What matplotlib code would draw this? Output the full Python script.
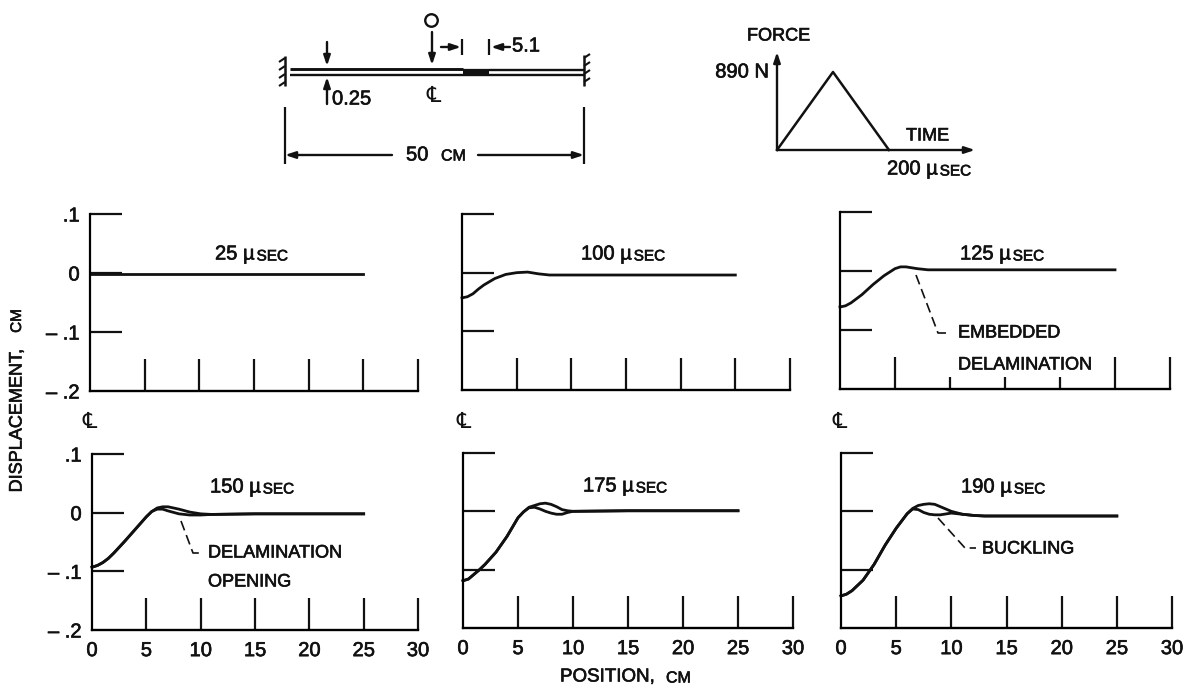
import matplotlib
matplotlib.use("Agg")
import matplotlib.pyplot as plt
import matplotlib.patheffects as pe
from matplotlib.text import Text

plt.rcParams['font.family'] = ['Liberation Sans', 'DejaVu Sans']

INK = '#111111'
W, H = 1191, 688

# displacement curves, position in cm, displacement in cm
x_25 = [0, 5, 10, 15, 20, 25]
y_25 = [-.002, -.002, -.002, -.002, -.002, -.002]

x_100 = [0, 0.5, 1, 1.5, 2, 3, 4, 5, 6, 7, 8, 10, 15, 20, 25]
y_100 = [-.043, -.041, -.036, -.028, -.021, -.010, -.003, 0, .001, -.002, -.004, -.004, -.004, -.004, -.004]

x_125 = [0, 0.5, 1, 1.5, 2, 3, 4, 5, 5.5, 6, 7, 8, 10, 15, 20, 25]
y_125 = [-.061, -.059, -.054, -.047, -.040, -.023, -.008, .004, .007, .007, .004, .002, .002, .002, .002, .002]

x_150 = [0, 0.5, 1, 1.5, 2, 3, 4, 5, 5.5, 6, 6.5, 7, 8, 9, 10, 11, 15, 20, 25]
y_150 = [-.093, -.090, -.085, -.078, -.069, -.049, -.028, -.007, .002, .008, .010, .010, .006, .001, -.002, -.003, -.002, -.002, -.002]
y_150b = [-.093, -.090, -.085, -.078, -.069, -.049, -.028, -.007, .002, .006, .006, .003, -.002, -.004, -.004, -.003, -.002, -.002, -.002]

x_175 = [0, 0.5, 1, 1.5, 2, 3, 4, 5, 5.5, 6, 6.5, 7, 7.5, 8, 8.5, 9, 9.5, 10, 15, 20, 25]
y_175 = [-.119, -.116, -.108, -.100, -.091, -.070, -.043, -.011, -.001, .007, .010, .013, .014, .012, .008, .003, .001, 0, .001, .001, .001]
y_175b = [-.119, -.116, -.108, -.100, -.091, -.070, -.043, -.011, -.001, .006, .007, .004, .000, -.003, -.005, -.005, -.002, 0, .001, .001, .001]

x_190 = [0, 0.5, 1, 2, 3, 4, 5, 6, 6.5, 7, 7.5, 8, 8.5, 9, 10, 11, 12, 13, 15, 20, 25]
y_190 = [-.145, -.142, -.136, -.118, -.091, -.058, -.029, -.004, .005, .010, .012, .013, .012, .008, 0, -.005, -.007, -.008, -.008, -.008, -.008]
y_190b = [-.145, -.142, -.136, -.118, -.091, -.058, -.029, -.004, .004, .003, -.002, -.005, -.006, -.006, -.003, -.005, -.007, -.008, -.008, -.008, -.008]

# panels
times = [25, 100, 125, 150, 175, 190]
curves = [
    [(x_25, y_25)],
    [(x_100, y_100)],
    [(x_125, y_125)],
    [(x_150, y_150), (x_150, y_150b)],
    [(x_175, y_175), (x_175, y_175b)],
    [(x_190, y_190), (x_190, y_190b)],
]
boxes = [(90, 418, 214, 391), (462, 790, 214, 390), (840, 1170, 212, 389),
         (92, 418, 454, 630), (463, 793, 453, 628), (841, 1172, 453, 628)]
title_pos = [(215, 254), (581, 254), (960, 254), (210, 487), (583, 486), (961, 487)]

x_ticks = [0, 5, 10, 15, 20, 25, 30]
y_ticks = [.1, 0, -.1, -.2]
y_tick_labels = ['.1', '0', '\u2013 .1', '\u2013 .2']

# force history
force_time = [0, 100, 200]
force_value = [0, 890, 0]

fig = plt.figure(figsize=(W / 100, H / 100), dpi=100)

# overlay in pixels for lettering and the beam sketch
ov = fig.add_axes([0, 0, 1, 1], zorder=5)
ov.set_xlim(0, W)
ov.set_ylim(H, 0)
ov.axis('off')
ov.patch.set_alpha(0)


def label(x, y, s, size=13, ha='left', rot=0):
    return ov.text(x, y, s, fontsize=size, ha=ha, va='center', color=INK, rotation=rot)


def usec(x, y, num):
    t = label(x, y, num + ' \u00b5', size=14.5)
    ov.annotate('SEC', xy=(1, 0), xycoords=t, xytext=(1.5, 0), textcoords='offset points',
                fontsize=11, ha='left', va='bottom', color=INK)


def seg(xs, ys, lw=1.6, **kw):
    ov.plot(xs, ys, color=INK, lw=lw, solid_capstyle='butt', **kw)


def arrow(x0, y0, x1, y1):
    ov.annotate('', xy=(x1, y1), xytext=(x0, y0),
                arrowprops=dict(arrowstyle='-|>,head_length=0.6,head_width=0.2', lw=1.7,
                                color=INK, shrinkA=0, shrinkB=0))


for i in range(6):
    l, r, t, b = boxes[i]
    ax = fig.add_axes([l / W, 1 - b / H, (r - l) / W, (b - t) / H])
    ax.patch.set_alpha(0)
    for xs, ys in curves[i]:
        ax.plot(xs, ys, color=INK, lw=2.0, clip_on=False, solid_joinstyle='round')
    ax.set_xlim(0, 30)
    ax.set_ylim(-.2, .1)
    ax.spines['top'].set_visible(False)
    ax.spines['right'].set_visible(False)
    ax.spines['left'].set_linewidth(1.6)
    ax.spines['bottom'].set_linewidth(1.7)
    ax.set_xticks(x_ticks)
    ax.set_yticks(y_ticks)
    ax.tick_params(axis='both', direction='in', length=23, width=1.6, color=INK, labelcolor=INK,
                   labelsize=14.5, pad=7.5)
    ax.tick_params(axis='x', labelbottom=i >= 3, pad=8)
    ax.xaxis.get_major_ticks()[0].tick1line.set_visible(False)
    ax.yaxis.get_major_ticks()[3].tick1line.set_visible(False)
    if i % 3 == 0:
        ax.set_yticklabels(y_tick_labels)
    else:
        ax.tick_params(axis='y', labelleft=False)
    if i == 2:
        for k in [2, 3, 4]:
            ax.xaxis.get_major_ticks()[k].tick1line.set_markersize(9)
    usec(title_pos[i][0], title_pos[i][1], str(times[i]))

# axis titles
label(17, 421, 'DISPLACEMENT,', size=13, ha='center', rot=90)
label(17, 321, 'CM', size=11, ha='center', rot=90)
label(560, 677, 'POSITION,', size=13.5)
label(666, 678, 'CM', size=11.5)

# leaders
ov.plot([916, 938, 949], [275, 333, 333], color=INK, lw=1.2, ls=(0, (6, 3)))
label(958, 333, 'EMBEDDED')
label(958, 365, 'DELAMINATION')
ov.plot([181, 193, 203], [521, 553, 553], color=INK, lw=1.2, ls=(0, (6, 3)))
label(208, 553, 'DELAMINATION')
label(208, 582, 'OPENING')
ov.plot([938, 965, 976], [518, 548, 548], color=INK, lw=1.2, ls=(0, (6, 3)))
label(982, 549, 'BUCKLING')

# beam sketch
seg([290, 463], [69, 69], lw=2.1)
seg([489, 584], [70, 70], lw=1.7)
seg([290, 584], [75, 75], lw=1.7)
seg([463, 489], [71.5, 71.5], lw=4.5)
seg([285, 285], [56, 86], lw=1.8)
seg([584, 584], [55, 86], lw=1.8)
for y in [58, 66, 74, 82]:
    seg([285, 279], [y, y + 4], lw=1.5)
    seg([584, 590], [y, y - 4], lw=1.5)
arrow(327, 42, 327, 66)
arrow(327, 104, 327, 77)
label(332, 99, '0.25', size=14.5)
ov.plot([431], [20], marker='o', ms=9, mfc='none', mec=INK, mew=1.7)
arrow(432, 32, 432, 65)
arrow(441, 47, 461, 47)
seg([462, 462], [39, 55])
arrow(510, 47, 491, 47)
seg([489, 489], [39, 55])
label(512, 46, '5.1', size=14.5)
seg([285, 285], [107, 164])
seg([584, 584], [107, 164])
arrow(392, 155, 285, 155)
arrow(478, 155, 584, 155)
label(406, 155, '50', size=14.5)
label(441, 156, 'CM', size=11.5)

# force sketch, origin at pixel (777, 150), 200 usec = 112 px, 890 N = 78 px
fx = fig.add_axes([777 / W, 1 - 150 / H, 198 / W, 98 / H])
fx.patch.set_alpha(0)
fx.plot(force_time, force_value, color=INK, lw=1.8, clip_on=False)
fx.set_xlim(0, 198 / 112 * 200)
fx.set_ylim(0, 98 / 78 * 890)
fx.axis('off')
arrow(777, 150, 975, 150)
arrow(777, 150, 777, 52)
label(747, 36, 'FORCE', size=13)
label(769, 72, '890 N', size=14.5, ha='right')
label(906, 136, 'TIME', size=13)
usec(887, 169, '200')

# heavier lettering, as in the scan
for t in fig.findobj(Text):
    t.set_path_effects([pe.withStroke(linewidth=0.45, foreground=INK)])

# centreline marks, drawn after so they stay unthickened
for x, y in [(90, 423), (464, 423), (840, 423), (434, 97)]:
    label(x, y, '\u2104', size=16, ha='center')

fig.savefig('out.png', dpi=100, facecolor='white')
